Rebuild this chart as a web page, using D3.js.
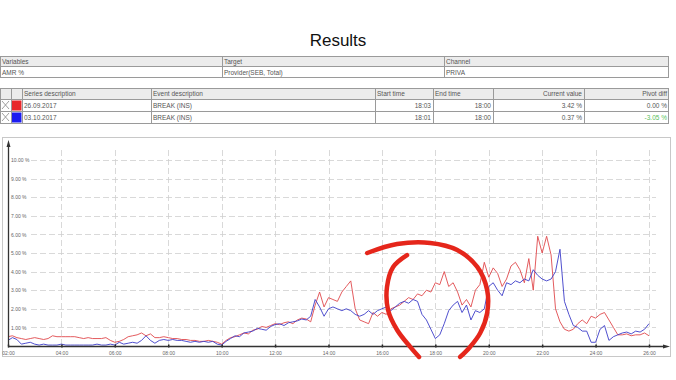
<!DOCTYPE html>
<html><head><meta charset="utf-8">
<script src="https://cdn.jsdelivr.net/npm/d3@7"></script>
<style>
html,body{margin:0;padding:0;background:#fff;}
svg{display:block;font-family:"Liberation Sans",Arial,sans-serif;}
</style></head>
<body>
<svg id="c" width="676" height="380"></svg>
<script>
// ---- data ----
const title = "Results";
const infoHeaders = ["Variables", "Target", "Channel"];
const infoValues = ["AMR %", "Provider(SEB, Total)", "PRIVA"];
const seriesHeaders = ["", "", "Series description", "Event description", "Start time", "End time", "Current value", "Pivot diff"];
const seriesNames = ["26.09.2017", "03.10.2017"];
const seriesColors = ["#e8282a", "#1c1cf0"];
const lineColors = ["#e0484c", "#3c3cc8"];
const eventDesc = ["BREAK (INS)", "BREAK (INS)"];
const startTimes = ["18:03", "18:01"];
const endTimes = ["18:00", "18:00"];
const currentValues = ["3.42 %", "0.37 %"];
const pivotDiffs = ["0.00 %", "-3.05 %"];

const startHour = 2;          // first sample 02:00
const stepMinutes = 10;       // one sample per 10 minutes
const xTickHours = [2,4,6,8,10,12,14,16,18,20,22,24,26];
const xTickLabels = ["02:00","04:00","06:00","08:00","10:00","12:00","14:00","16:00","18:00","20:00","22:00","24:00","26:00"];
const yTickValues = [1,2,3,4,5,6,7,8,9,10];
const yTickLabels = ["1.00 %","2.00 %","3.00 %","4.00 %","5.00 %","6.00 %","7.00 %","8.00 %","9.00 %","10.00 %"];

const redValues = [
0.5,0.55,0.45,0.4,0.35,0.4,0.45,0.4,0.35,0.4,
0.55,0.5,0.5,0.5,0.5,0.5,0.45,0.4,0.45,0.4,
0.4,0.4,0.45,0.3,0.2,0.25,0.35,0.5,0.55,0.6,
0.7,0.55,0.65,0.45,0.45,0.5,0.45,0.4,0.4,0.35,
0.35,0.3,0.3,0.25,0.25,0.3,0.25,0.2,0.1,0.3,
0.45,0.5,0.6,0.7,0.65,0.85,0.9,1.05,1.0,1.1,
1.2,1.15,1.25,1.3,1.2,1.4,1.5,1.45,1.3,2.2,
2.9,2.1,2.6,2.5,2.4,2.9,3.2,3.5,2.0,1.4,
1.3,1.2,1.8,1.6,1.8,1.7,2.0,2.1,2.2,2.4,
2.6,2.5,2.8,2.7,3.0,2.9,3.4,3.3,4.0,3.2,
3.4,2.9,2.2,2.5,2.1,3.0,3.3,4.5,3.7,4.2,
3.9,3.2,3.6,4.3,4.5,4.1,3.4,4.7,3.0,5.9,
5.0,5.9,4.9,2.0,1.3,0.9,0.8,0.9,1.2,1.4,
1.2,1.6,1.5,1.7,1.8,1.4,1.0,0.6,0.6,0.65,
0.55,0.6,0.6,0.7,0.55];
const blueValues = [
0.3,0.45,0.35,0.1,0.15,0.2,0.1,0.05,0.1,0.05,
0.05,0.05,0.1,0.05,0.05,0.05,0.05,0.05,0.05,0.05,
0.1,0.05,0.05,0.1,0.05,0.2,0.1,0.15,0.2,0.15,
0.3,0.55,0.3,0.15,0.3,0.35,0.3,0.35,0.3,0.3,
0.25,0.2,0.25,0.2,0.25,0.2,0.25,0.1,0.05,0.25,
0.4,0.55,0.5,0.7,0.75,0.8,0.95,0.9,0.85,1.05,
1.15,1.2,1.1,1.25,1.3,1.35,1.45,1.4,1.6,2.5,
2.1,1.6,2.0,2.1,2.0,1.9,2.0,1.9,1.7,1.6,
1.7,1.9,1.7,1.9,2.0,2.1,1.9,2.1,2.3,2.4,
2.3,2.5,2.4,1.7,1.4,0.9,0.4,0.6,1.2,1.9,
2.2,2.4,1.8,2.2,1.4,1.9,1.8,2.0,3.2,3.4,
3.0,2.7,3.4,3.3,3.5,3.4,3.6,3.5,4.1,3.8,
3.6,3.5,3.6,4.0,5.2,2.4,1.7,1.1,1.0,0.8,
0.8,0.2,0.2,0.9,1.1,0.3,0.5,0.6,0.7,0.75,
0.65,0.8,0.75,0.9,1.2];

// hand-drawn annotation (hour, %)
const annoOuter = [[15.45,5.0],[16.57,5.48],[17.81,5.54],[18.82,5.16],[19.57,4.25],[19.94,3.01],[19.94,1.77],[19.68,0.70],[19.30,-0.05],[18.93,-0.59]];
const annoInner = [[16.94,4.89],[16.42,4.25],[16.19,3.17],[16.23,1.94],[16.57,0.86],[17.06,-0.05],[17.39,-0.59]];

// ---- drawing ----
const svg = d3.select("#c");
const textCol = "#555";

svg.append("text").attr("x", 338).attr("y", 46).attr("text-anchor", "middle")
  .attr("font-size", 17).attr("fill", "#111").text(title);

// info table
const t1 = {x:[0,222,444,668], y:[56,66,77]};
const gridCol = "#9a9a9a";
svg.append("rect").attr("x",0.5).attr("y",t1.y[0]+0.5).attr("width",668).attr("height",t1.y[1]-t1.y[0])
  .attr("fill","#ececec");
infoHeaders.forEach((h,i)=>{
  svg.append("text").attr("x",t1.x[i]+2).attr("y",t1.y[0]+8).attr("font-size",6.5).attr("fill",textCol).text(h);
  svg.append("text").attr("x",t1.x[i]+2).attr("y",t1.y[1]+8.5).attr("font-size",6.5).attr("fill",textCol).text(infoValues[i]);
});
const g1 = svg.append("g").attr("stroke",gridCol).attr("stroke-width",1).attr("fill","none");
g1.append("rect").attr("x",0.5).attr("y",t1.y[0]+0.5).attr("width",668).attr("height",t1.y[2]-t1.y[0]);
g1.append("line").attr("x1",0).attr("x2",668).attr("y1",t1.y[1]+0.5).attr("y2",t1.y[1]+0.5);
[222,444].forEach(x=>g1.append("line").attr("x1",x+0.5).attr("x2",x+0.5).attr("y1",t1.y[0]).attr("y2",t1.y[2]));

// series table
const cx = [0,11,22,151,375,433,493,584,669];
const ry = [88,99,111,123];
svg.append("rect").attr("x",0.5).attr("y",ry[0]+0.5).attr("width",668).attr("height",ry[1]-ry[0]).attr("fill","#ececec");
const rightAlign = [false,false,false,false,false,false,true,true];
seriesHeaders.forEach((h,i)=>{
  if(!h) return;
  const ra = rightAlign[i];
  svg.append("text").attr("x", ra ? cx[i+1]-2 : cx[i]+2).attr("y", ry[0]+8)
    .attr("text-anchor", ra ? "end":"start").attr("font-size",6.5).attr("fill",textCol).text(h);
});
seriesNames.forEach((n,r)=>{
  const y0 = ry[r+1];
  // check cross
  svg.append("path").attr("d",`M2,${y0+2}L9,${y0+10}M9,${y0+2}L2,${y0+10}`).attr("stroke","#888").attr("stroke-width",0.8);
  svg.append("rect").attr("x",11.5).attr("y",y0+1.5).attr("width",10).attr("height",10).attr("fill",seriesColors[r]);
  const cells = [n, eventDesc[r], startTimes[r], endTimes[r], currentValues[r], pivotDiffs[r]];
  const right = [false,false,true,true,true,true];
  cells.forEach((c,j)=>{
    const ci = j+2;
    svg.append("text").attr("x", right[j] ? cx[ci+1]-2 : cx[ci]+2).attr("y", y0+8.5)
      .attr("text-anchor", right[j] ? "end":"start").attr("font-size",6.5)
      .attr("fill", (j===5 && r===1) ? "#5cbf5c" : textCol).text(c);
  });
});
const g2 = svg.append("g").attr("stroke",gridCol).attr("stroke-width",1).attr("fill","none");
g2.append("rect").attr("x",0.5).attr("y",ry[0]+0.5).attr("width",668).attr("height",ry[3]-ry[0]);
[ry[1],ry[2]].forEach(y=>g2.append("line").attr("x1",0).attr("x2",669).attr("y1",y+0.5).attr("y2",y+0.5));
cx.slice(1,-1).forEach(x=>g2.append("line").attr("x1",x+0.5).attr("x2",x+0.5).attr("y1",ry[0]).attr("y2",ry[3]));

// chart panel
svg.append("rect").attr("x",2.5).attr("y",137.5).attr("width",668).attr("height",219)
  .attr("fill","none").attr("stroke","#c8c8c8");

const x = d3.scaleLinear().domain([2,26]).range([8,649]);
const y = d3.scaleLinear().domain([0,10]).range([346,160]);

// grid
const grid = svg.append("g").attr("stroke","#cfcfcf").attr("stroke-width",0.8).attr("stroke-dasharray","6,3");
yTickValues.forEach(v=>grid.append("line").attr("x1",31).attr("x2",656).attr("y1",Math.round(y(v))+0.5).attr("y2",Math.round(y(v))+0.5));
xTickHours.slice(1).forEach(h=>grid.append("line").attr("x1",Math.round(x(h))+0.5).attr("x2",Math.round(x(h))+0.5).attr("y1",150).attr("y2",346));

// y labels
const yAx = d3.axisRight(y).tickValues(yTickValues).tickSize(0).tickPadding(3)
  .tickFormat((d,i)=>yTickLabels[i]);
const ya = svg.append("g").attr("transform","translate(8,0)").call(yAx);
ya.select(".domain").remove();
ya.selectAll("text").attr("font-size",5).attr("fill","#666").attr("font-family","Liberation Sans,Arial");

// series lines
const line = d3.line().x((d,i)=>x(startHour + i*stepMinutes/60)).y(d=>y(d));
svg.append("path").datum(redValues).attr("d",line).attr("fill","none").attr("stroke",lineColors[0]).attr("stroke-width",0.9);
svg.append("path").datum(blueValues).attr("d",line).attr("fill","none").attr("stroke",lineColors[1]).attr("stroke-width",0.9);

// axes
const xAx = d3.axisBottom(x).tickValues(xTickHours).tickSize(3).tickPadding(2)
  .tickFormat((d,i)=>xTickLabels[i]);
const xa = svg.append("g").attr("transform","translate(0,346)").call(xAx);
xa.select(".domain").remove();
xa.selectAll(".tick line").attr("stroke","#222").attr("stroke-width",1.5).attr("y1",-1.5).attr("y2",1.5);
xa.selectAll("text").attr("font-size",5).attr("fill","#666").attr("font-family","Liberation Sans,Arial");

svg.append("line").attr("x1",8).attr("x2",664).attr("y1",346.5).attr("y2",346.5).attr("stroke","#333").attr("stroke-width",1.3);
svg.append("path").attr("d","M670,346.5L663,344.5L663,348.5Z").attr("fill","#333");
svg.append("line").attr("x1",8.5).attr("x2",8.5).attr("y1",346).attr("y2",146).attr("stroke","#333").attr("stroke-width",1.3);
svg.append("path").attr("d","M8.5,140L6.5,147L10.5,147Z").attr("fill","#333");

// annotation
const aLine = d3.line().x(d=>x(d[0])).y(d=>y(d[1])).curve(d3.curveCatmullRom);
[annoOuter, annoInner].forEach(a=>{
  svg.append("path").datum(a).attr("d",aLine).attr("fill","none").attr("stroke","#e5261b")
    .attr("stroke-width",4.5).attr("stroke-linecap","round");
});
</script>
</body></html>
